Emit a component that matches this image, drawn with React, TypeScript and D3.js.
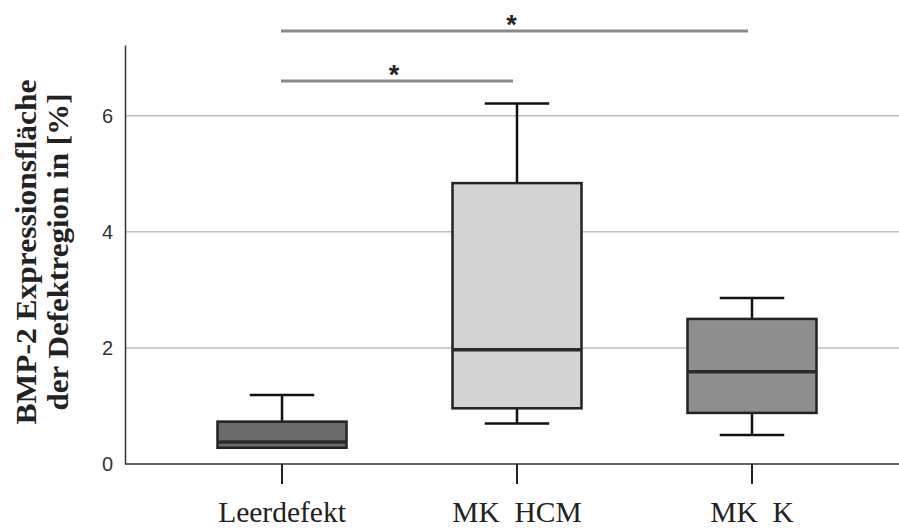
import React, { useEffect, useRef } from "react";
import * as d3 from "d3";

// groups and box statistics
const groups = ["Leerdefekt", "MK  HCM", "MK  K"];
const mins = [0.28, 0.7, 0.5];
const q1s = [0.28, 0.96, 0.88];
const medians = [0.38, 1.97, 1.59];
const q3s = [0.73, 4.84, 2.5];
const maxs = [1.19, 6.21, 2.86];
const fills = ["#6b6b6b", "#d3d3d3", "#8e8e8e"];

const yTicks = [0, 2, 4, 6];

// significance brackets
const sigPairs = [
  { from: 0, to: 2, level: 0 },
  { from: 0, to: 1, level: 1 },
];

const App = () => {
  const svgRef = useRef<SVGSVGElement>(null);

  useEffect(() => {
    const width = 899, height = 528;
    const svg = d3.select(svgRef.current);
    svg.selectAll("*").remove();

    const x = d3.scaleBand<string>()
      .domain(groups)
      .range([217.5, 816.5])
      .paddingInner(0.451)
      .paddingOuter(0);

    const y = d3.scaleLinear().domain([0, 7.22]).range([464, 45]);
    const cx = (i: number) => x(groups[i])! + x.bandwidth() / 2;

    // grid lines
    svg.append("g")
      .selectAll("line")
      .data(yTicks.filter(d => d > 0))
      .enter().append("line")
      .attr("x1", 126)
      .attr("x2", width)
      .attr("y1", d => y(d))
      .attr("y2", d => y(d))
      .attr("stroke", "#bdbdbd")
      .attr("stroke-width", 1.5);

    // y axis
    const yAxis = svg.append("g")
      .attr("transform", "translate(125,0)")
      .call(d3.axisLeft(y).tickValues(yTicks).tickSize(0).tickPadding(12).tickFormat(d3.format("d")));
    yAxis.select(".domain").attr("stroke", "#333").attr("stroke-width", 1.5);
    yAxis.selectAll("text")
      .attr("font-family", "Liberation Sans, Arial, sans-serif")
      .attr("font-size", 20)
      .attr("fill", "#333");

    // x axis
    const xAxis = svg.append("g")
      .attr("transform", `translate(0,${y(0)})`)
      .call(d3.axisBottom(x).tickSize(20).tickPadding(17));
    xAxis.select(".domain").attr("d", `M125,0H${width}`).attr("stroke", "#333").attr("stroke-width", 1.5);
    xAxis.selectAll(".tick line").attr("stroke", "#222").attr("stroke-width", 2);
    xAxis.selectAll("text")
      .attr("font-family", "Liberation Serif, Times New Roman, serif")
      .attr("font-size", 29.5)
      .attr("fill", "#222")
      .style("white-space", "pre");

    // boxes
    const bw = x.bandwidth();
    const box = svg.append("g")
      .selectAll("g")
      .data(groups)
      .enter().append("g");

    // whiskers
    box.append("line")
      .attr("x1", (d, i) => cx(i)).attr("x2", (d, i) => cx(i))
      .attr("y1", (d, i) => y(maxs[i])).attr("y2", (d, i) => y(q3s[i]))
      .attr("stroke", "#111").attr("stroke-width", 2.5);
    box.append("line")
      .attr("x1", (d, i) => cx(i)).attr("x2", (d, i) => cx(i))
      .attr("y1", (d, i) => y(q1s[i])).attr("y2", (d, i) => y(mins[i]))
      .attr("stroke", "#111").attr("stroke-width", 2.5);
    // caps
    box.append("line")
      .attr("x1", (d, i) => cx(i) - bw / 4).attr("x2", (d, i) => cx(i) + bw / 4)
      .attr("y1", (d, i) => y(maxs[i])).attr("y2", (d, i) => y(maxs[i]))
      .attr("stroke", "#111").attr("stroke-width", 2.5);
    box.filter((d, i) => mins[i] < q1s[i]).append("line")
      .attr("x1", d => cx(groups.indexOf(d)) - bw / 4)
      .attr("x2", d => cx(groups.indexOf(d)) + bw / 4)
      .attr("y1", d => y(mins[groups.indexOf(d)]))
      .attr("y2", d => y(mins[groups.indexOf(d)]))
      .attr("stroke", "#111").attr("stroke-width", 2.5);

    box.append("rect")
      .attr("x", d => x(d)!)
      .attr("width", bw)
      .attr("y", (d, i) => y(q3s[i]))
      .attr("height", (d, i) => y(q1s[i]) - y(q3s[i]))
      .attr("fill", (d, i) => fills[i])
      .attr("stroke", "#222")
      .attr("stroke-width", 2.5);

    box.append("line")
      .attr("x1", d => x(d)!).attr("x2", d => x(d)! + bw)
      .attr("y1", (d, i) => y(medians[i])).attr("y2", (d, i) => y(medians[i]))
      .attr("stroke", "#2a2a2a").attr("stroke-width", 3.5);

    // significance bars
    const sig = svg.append("g");
    const sigY = (lvl: number) => 31 + lvl * 50;
    const x1 = (d: { from: number }) => cx(d.from) - 1;
    const x2 = (d: { to: number }) => cx(d.to) - 4;
    sig.selectAll("line")
      .data(sigPairs)
      .enter().append("line")
      .attr("x1", x1)
      .attr("x2", x2)
      .attr("y1", d => sigY(d.level))
      .attr("y2", d => sigY(d.level))
      .attr("stroke", "#8a8a8a")
      .attr("stroke-width", 3);
    sig.selectAll("text")
      .data(sigPairs)
      .enter().append("text")
      .attr("x", d => (x1(d) + x2(d)) / 2 - 3)
      .attr("y", d => sigY(d.level) + 3)
      .attr("text-anchor", "middle")
      .attr("font-family", "Liberation Sans, Arial, sans-serif")
      .attr("font-weight", "bold")
      .attr("font-size", 27)
      .attr("fill", "#222")
      .text("*");

    // y axis title
    const title = svg.append("text")
      .attr("transform", "translate(0,252) rotate(-90)")
      .attr("text-anchor", "middle")
      .attr("font-family", "Liberation Serif, Times New Roman, serif")
      .attr("font-weight", "bold")
      .attr("font-size", 30)
      .attr("fill", "#222");
    title.append("tspan").attr("x", 0).attr("y", 36)
      .attr("textLength", 345).attr("lengthAdjust", "spacingAndGlyphs")
      .text("BMP-2 Expressionsfläche");
    title.append("tspan").attr("x", 0).attr("y", 68)
      .attr("textLength", 317).attr("lengthAdjust", "spacingAndGlyphs")
      .text("der Defektregion in [%]");

    svg.attr("width", width).attr("height", height);
  }, []);

  return (
    <svg ref={svgRef} width={899} height={528}
      style={{ position: "absolute", left: 0, top: 0, background: "#fff" }} />
  );
};

export default App;
